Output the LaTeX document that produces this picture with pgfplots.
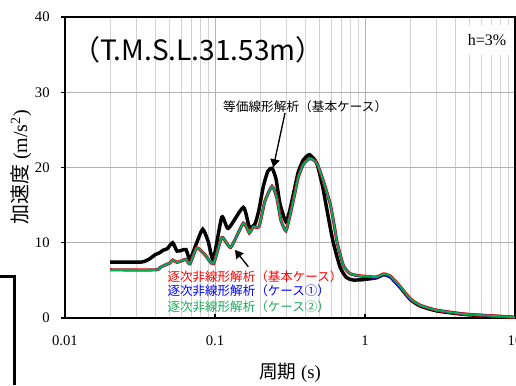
\documentclass[border=0pt]{standalone}
\usepackage{fontspec}
\setmainfont{Liberation Serif}
\newfontfamily\jp{Noto Sans CJK JP}
\usepackage{pgfplots}
\pgfplotsset{compat=1.18}
\usetikzlibrary{arrows.meta}
\definecolor{cred}{RGB}{255,0,0}
\definecolor{cblue}{RGB}{0,0,255}
\definecolor{cgreen}{RGB}{0,176,80}
\definecolor{tgreen}{RGB}{30,170,90}

\begin{document}
\begin{tikzpicture}[x=1pt,y=1pt]
\begin{axis}[
  at={(48.75pt,50.25pt)}, anchor=south west,
  scale only axis, width=337.5pt, height=225.75pt,
  xmode=log, xmin=0.01, xmax=10, ymin=0, ymax=40,
  xtick={0.01,0.1,1,10}, xticklabels={0.01,0.1,1,10},
  minor xtick={0.02,0.03,0.04,0.05,0.06,0.07,0.08,0.09,0.2,0.3,0.4,0.5,0.6,0.7,0.8,0.9,2,3,4,5,6,7,8,9},
  ytick={0,10,20,30,40},
  xmajorgrids, xminorgrids, ymajorgrids,
  major grid style={draw=gray!60, line width=0.75pt},
  minor grid style={draw=gray!35, line width=0.75pt},
  tick pos=left,
  xtick align=inside, ytick align=outside,
  major tick length=3pt, minor tick length=0pt,
  tick style={black, line width=0.8pt},
  axis line style={line width=1pt},
  /pgf/number format/assume math mode=true,
  tick label style={font=\fontsize{11}{13}\selectfont},
  xticklabel shift=10pt,
  yticklabel shift=5pt,
  xlabel={{\jp 周期} (s)},
  ylabel={{\jp 加速度} (m/s\textsuperscript{2})},
  xlabel style={font=\fontsize{14}{16}\selectfont, at={(axis description cs:0.5,-0.183)}, anchor=center},
  ylabel style={font=\fontsize{15}{17}\selectfont, at={(axis description cs:-0.098,0.5)}, anchor=center},
  clip=true,
]
% equivalent linear (black)
\addplot[black, line width=2.6pt, smooth, tension=0.35] coordinates {
(0.02,7.44)(0.0324,7.44)(0.0369,7.9)(0.0398,8.4)(0.043,8.7)(0.045,9.0)(0.048,9.2)
(0.0522,10.0)(0.0558,8.9)(0.060,9.0)(0.0641,9.1)(0.0681,7.8)(0.0755,10.0)(0.0828,11.8)
(0.090,10.2)(0.0975,7.8)(0.111,13.4)(0.1227,11.9)(0.1545,14.7)(0.1693,12.1)(0.1848,12.5)
(0.197,14.5)(0.21,17.5)(0.225,19.5)(0.24,19.9)(0.255,18.5)(0.271,15.2)(0.297,12.8)
(0.316,14.4)(0.341,17.4)(0.359,19.4)(0.388,21.0)(0.4266,21.7)(0.476,20.6)(0.52,17.6)(0.555,14.6)
(0.61,10.3)(0.681,6.8)(0.75,5.4)(0.83,5.05)(0.97,5.1)(1.196,5.35)(1.324,5.75)(1.468,5.5)
(1.711,4.1)(1.995,2.5)(2.33,1.6)(3.0,0.95)(4.76,0.45)(10,0.08)
};
% nonlinear basic (red)
\addplot[cred, line width=2.4pt, smooth, tension=0.35] coordinates {
(0.02,6.4)(0.040,6.4)(0.043,6.7)(0.046,7.0)(0.050,7.3)(0.0522,7.7)(0.0558,7.4)(0.060,7.6)
(0.0641,7.8)(0.0681,7.2)(0.0755,9.3)(0.085,8.5)(0.0975,7.2)(0.111,10.7)(0.1273,9.4)
(0.1545,12.6)(0.1693,11.3)(0.18,12.1)(0.197,12.2)(0.215,15.5)(0.24,17.5)(0.258,16.0)
(0.275,13.0)(0.297,11.6)(0.316,13.6)(0.341,16.6)(0.359,18.7)(0.388,20.4)(0.43,21.2)(0.476,20.6)
(0.52,18.6)(0.584,15.3)(0.62,12.6)(0.653,10.0)(0.717,7.0)(0.794,5.9)(0.926,5.6)(1.196,5.45)
(1.324,5.85)(1.468,5.6)(1.711,4.2)(1.995,2.6)(2.33,1.7)(3.0,1.05)(4.76,0.5)(10,0.1)
};
% case 1 (blue)
\addplot[cblue, line width=1.4pt, smooth, tension=0.35] coordinates {
(0.02,6.4)(0.040,6.4)(0.043,6.7)(0.046,7.0)(0.050,7.3)(0.0522,7.7)(0.0558,7.4)(0.060,7.6)
(0.0641,7.8)(0.0681,7.2)(0.0755,9.3)(0.085,8.5)(0.0975,7.2)(0.111,10.7)(0.1273,9.4)
(0.1545,12.6)(0.1693,11.3)(0.18,12.1)(0.197,12.2)(0.215,15.5)(0.24,17.5)(0.258,16.0)
(0.275,13.0)(0.297,11.6)(0.316,13.6)(0.341,16.6)(0.359,18.7)(0.388,20.4)(0.43,21.2)(0.476,20.6)
(0.52,18.6)(0.584,15.3)(0.62,12.6)(0.653,10.0)(0.717,7.0)(0.794,5.9)(0.926,5.55)(1.196,5.35)
(1.324,5.7)(1.468,5.45)(1.711,4.1)(1.995,2.55)(2.33,1.7)(3.0,1.05)(4.76,0.5)(10,0.1)
};
% case 2 (green)
\addplot[cgreen, line width=1.4pt, smooth, tension=0.35] coordinates {
(0.02,6.4)(0.040,6.4)(0.043,6.7)(0.046,7.0)(0.050,7.3)(0.0522,7.7)(0.0558,7.4)(0.060,7.6)
(0.0641,7.8)(0.0681,7.2)(0.0755,9.3)(0.085,8.5)(0.0975,7.2)(0.111,10.7)(0.1273,9.4)
(0.1545,12.6)(0.1693,11.3)(0.18,12.1)(0.197,12.2)(0.215,15.5)(0.24,17.5)(0.258,16.0)
(0.275,13.0)(0.297,11.6)(0.316,13.6)(0.341,16.6)(0.359,18.7)(0.388,20.4)(0.43,21.2)(0.476,20.6)
(0.52,18.6)(0.584,15.3)(0.62,12.6)(0.653,10.0)(0.717,7.0)(0.794,5.9)(0.926,5.6)(1.196,5.45)
(1.324,5.85)(1.468,5.6)(1.711,4.2)(1.995,2.6)(2.33,1.7)(3.0,1.05)(4.76,0.5)(10,0.1)
};
% annotations
\node[anchor=center, font=\jp\fontsize{21}{24}\selectfont, inner sep=0pt] at (rel axis cs:0.2956,0.8904) {（T.M.S.L.31.53m）};
\node[anchor=center, fill=white, inner sep=0pt, minimum width=33pt, minimum height=22pt, font=\fontsize{12}{14}\selectfont] at (rel axis cs:0.9378,0.9236) {h=3\%};
\node[anchor=west, font=\jp\fontsize{9.5}{11}\selectfont, inner sep=0pt] at (rel axis cs:0.351,0.702) {等価線形解析（基本ケース）};
\draw[line width=1pt, -{Triangle[length=6pt,width=7pt]}] (rel axis cs:0.4889,0.681) -- (rel axis cs:0.4629,0.5007);
\draw[line width=1pt, -{Triangle[length=6pt,width=7pt]}] (rel axis cs:0.4073,0.1704) -- (rel axis cs:0.3778,0.2259);
\node[anchor=west, font=\jp\fontsize{9.4}{11}\selectfont, inner sep=0pt, text=cred] at (rel axis cs:0.2273,0.1362) {逐次非線形解析（基本ケース）};
\node[anchor=west, font=\jp\fontsize{9.4}{11}\selectfont, inner sep=0pt, text=cblue] at (rel axis cs:0.2273,0.0897) {逐次非線形解析（ケース①）};
\node[anchor=west, font=\jp\fontsize{9.4}{11}\selectfont, inner sep=0pt, text=tgreen] at (rel axis cs:0.2273,0.0365) {逐次非線形解析（ケース②）};
\end{axis}
\draw[line width=2.25pt] (0,81) -- (10.5,81) -- (10.5,0);
\pgfresetboundingbox
\path[use as bounding box] (0,0) rectangle (387,288.75);
\end{tikzpicture}
\end{document}
